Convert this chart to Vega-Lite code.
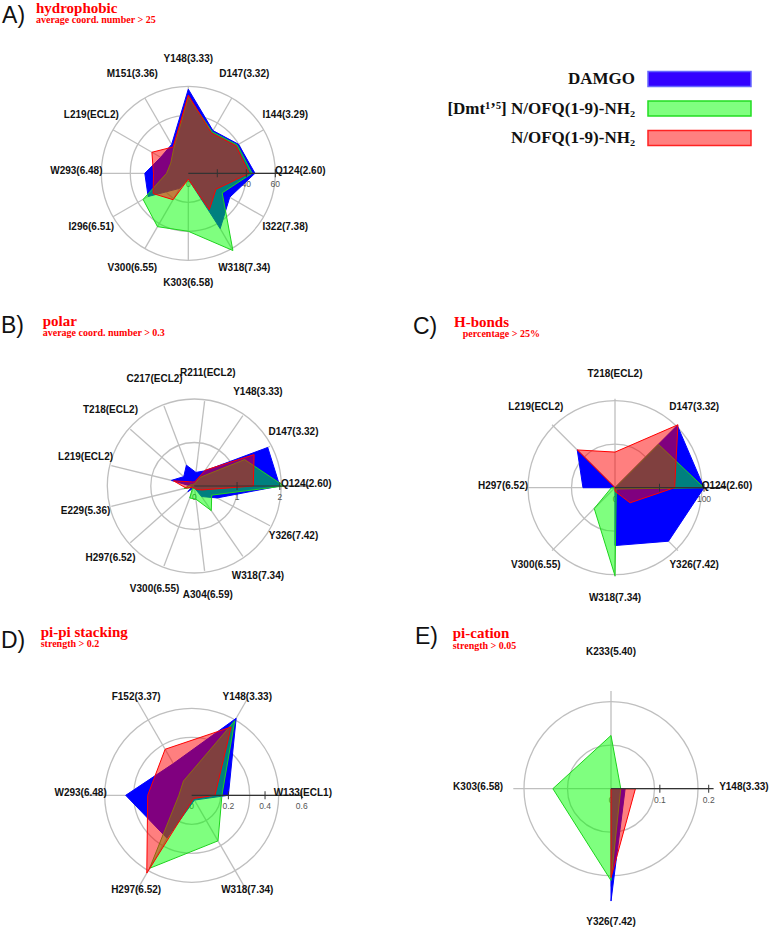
{
"$schema":"https://vega.github.io/schema/vega-lite/v6.json",
"padding":0,
"autosize":{"type":"pad"},
"background":"white",
"columns":2,
"spacing":0,
"bounds":"flush",
"align":"each",
"config":{"view":{"stroke":null},"concat":{"spacing":0}},
"datasets":{
"hyd":[
{"res":"Q124(2.60)","DAMGO":46,"Dmt":44,"NOFQ":42},
{"res":"I144(3.29)","DAMGO":40,"Dmt":39,"NOFQ":38},
{"res":"D147(3.32)","DAMGO":34,"Dmt":33,"NOFQ":32},
{"res":"Y148(3.33)","DAMGO":58,"Dmt":52.5,"NOFQ":54},
{"res":"M151(3.36)","DAMGO":23,"Dmt":20,"NOFQ":21},
{"res":"L219(ECL2)","DAMGO":22,"Dmt":14,"NOFQ":29},
{"res":"W293(6.48)","DAMGO":30,"Dmt":15,"NOFQ":24},
{"res":"I296(6.51)","DAMGO":32,"Dmt":36,"NOFQ":28},
{"res":"V300(6.55)","DAMGO":12,"Dmt":42.5,"NOFQ":21},
{"res":"K303(6.58)","DAMGO":4,"Dmt":40,"NOFQ":4},
{"res":"W318(7.34)","DAMGO":44,"Dmt":61.5,"NOFQ":29},
{"res":"I322(7.38)","DAMGO":33,"Dmt":27,"NOFQ":22}
],
"pol":[
{"res":"Q124(2.60)","DAMGO":2.0,"Dmt":2.1,"NOFQ":1.38},
{"res":"D147(3.32)","DAMGO":1.94,"Dmt":1.33,"NOFQ":1.58},
{"res":"Y148(3.33)","DAMGO":0.43,"Dmt":0.25,"NOFQ":0.45},
{"res":"R211(ECL2)","DAMGO":0.32,"Dmt":0.05,"NOFQ":0.1},
{"res":"C217(ECL2)","DAMGO":0.52,"Dmt":0.05,"NOFQ":0.1},
{"res":"T218(ECL2)","DAMGO":0.33,"Dmt":0.05,"NOFQ":0.15},
{"res":"L219(ECL2)","DAMGO":0.55,"Dmt":0.1,"NOFQ":0.5},
{"res":"E229(5.36)","DAMGO":0.05,"Dmt":0.25,"NOFQ":0.2},
{"res":"H297(6.52)","DAMGO":0.2,"Dmt":0.05,"NOFQ":0.05},
{"res":"V300(6.55)","DAMGO":0.05,"Dmt":0.3,"NOFQ":0.05},
{"res":"A304(6.59)","DAMGO":0.05,"Dmt":0.31,"NOFQ":0.05},
{"res":"W318(7.34)","DAMGO":0.3,"Dmt":0.7,"NOFQ":0.1},
{"res":"Y326(7.42)","DAMGO":0.6,"Dmt":0.46,"NOFQ":0.2}
],
"hb":[
{"res":"Q124(2.60)","DAMGO":100,"Dmt":100,"NOFQ":67},
{"res":"D147(3.32)","DAMGO":99,"Dmt":69,"NOFQ":100},
{"res":"T218(ECL2)","DAMGO":0,"Dmt":0,"NOFQ":40},
{"res":"L219(ECL2)","DAMGO":60,"Dmt":0,"NOFQ":60},
{"res":"H297(6.52)","DAMGO":36,"Dmt":4,"NOFQ":0},
{"res":"V300(6.55)","DAMGO":0,"Dmt":33,"NOFQ":0},
{"res":"W318(7.34)","DAMGO":65,"Dmt":99,"NOFQ":4},
{"res":"Y326(7.42)","DAMGO":85,"Dmt":2,"NOFQ":24}
],
"pp":[
{"res":"W133(ECL1)","DAMGO":0.2,"Dmt":0.165,"NOFQ":0.127},
{"res":"Y148(3.33)","DAMGO":0.485,"Dmt":0.47,"NOFQ":0.43},
{"res":"F152(3.37)","DAMGO":0.2,"Dmt":0.09,"NOFQ":0.29},
{"res":"W293(6.48)","DAMGO":0.36,"Dmt":0.07,"NOFQ":0.24},
{"res":"H297(6.52)","DAMGO":0.27,"Dmt":0.46,"NOFQ":0.49},
{"res":"W318(7.34)","DAMGO":0.03,"Dmt":0.287,"NOFQ":0.02}
],
"pc":[
{"res":"Y148(3.33)","DAMGO":0.029,"Dmt":0.02,"NOFQ":0.05},
{"res":"K233(5.40)","DAMGO":0,"Dmt":0.109,"NOFQ":0},
{"res":"K303(6.58)","DAMGO":0,"Dmt":0.119,"NOFQ":0},
{"res":"Y326(7.42)","DAMGO":0.23,"Dmt":0.188,"NOFQ":0.182}
]
},
"concat":[
{"width":380,"height":300,"layer":[
{"data":{"values":[{"t":20},{"t":40},{"t":60}]},"transform":[{"calculate":"datum.t/60","as":"rn"},{"calculate":"0","as":"z"}],
"mark":{"type":"point","shape":"circle","filled":false,"stroke":"#bfbfbf","strokeWidth":1.3,"opacity":1},
"encoding":{"x":{"field":"z","type":"quantitative","scale":{"domain":[-2.1644,2.2034],"nice":false,"zero":false},"axis":null},"y":{"field":"z","type":"quantitative","scale":{"domain":[-1.4678,1.9805],"nice":false,"zero":false},"axis":null},"size":{"field":"rn","type":"quantitative","scale":{"type":"pow","exponent":2,"domain":[0,1],"range":[0,30276],"zero":true,"nice":false},"legend":null}}},
{"data":{"name":"hyd"},"transform":[{"window":[{"op":"row_number","as":"k"}]},{"joinaggregate":[{"op":"count","as":"n"}]},{"calculate":"2*PI*(datum.k-1)/datum.n","as":"ang"},{"calculate":"cos(datum.ang)","as":"ux"},{"calculate":"sin(datum.ang)","as":"uy"},{"calculate":"0","as":"z"}],
"mark":{"type":"rule","stroke":"#bfbfbf","strokeWidth":1.3},
"encoding":{"x":{"field":"z","type":"quantitative","scale":{"domain":[-2.1644,2.2034],"nice":false,"zero":false},"axis":null},"y":{"field":"z","type":"quantitative","scale":{"domain":[-1.4678,1.9805],"nice":false,"zero":false},"axis":null},"x2":{"field":"ux"},"y2":{"field":"uy"}}},
{"data":{"values":[{"t":0},{"t":20},{"t":40},{"t":60}]},"transform":[{"calculate":"datum.t/60","as":"rn"},{"calculate":"0","as":"z"}],
"mark":{"type":"text","font":"Liberation Sans","fontSize":8.5,"color":"#555","dy":11,"align":"center","baseline":"middle"},
"encoding":{"x":{"field":"rn","type":"quantitative","scale":{"domain":[-2.1644,2.2034],"nice":false,"zero":false},"axis":null},"y":{"field":"z","type":"quantitative","scale":{"domain":[-1.4678,1.9805],"nice":false,"zero":false},"axis":null},"text":{"field":"t","type":"nominal"}}},
{"data":{"name":"hyd"},"transform":[{"window":[{"op":"row_number","as":"k"}]},{"joinaggregate":[{"op":"count","as":"n"}]},{"calculate":"2*PI*(datum.k-1)/datum.n","as":"ang"},{"calculate":"datum.DAMGO/60*cos(datum.ang)","as":"px"},{"calculate":"datum.DAMGO/60*sin(datum.ang)","as":"py"}],
"mark":{"type":"line","filled":true,"interpolate":"linear-closed","fill":"#0000ff","fillOpacity":1,"stroke":"#0000ff","strokeWidth":1},
"encoding":{"x":{"field":"px","type":"quantitative","scale":{"domain":[-2.1644,2.2034],"nice":false,"zero":false},"axis":null},"y":{"field":"py","type":"quantitative","scale":{"domain":[-1.4678,1.9805],"nice":false,"zero":false},"axis":null},"order":{"field":"k","type":"quantitative"}}},
{"data":{"name":"hyd"},"transform":[{"window":[{"op":"row_number","as":"k"}]},{"joinaggregate":[{"op":"count","as":"n"}]},{"calculate":"2*PI*(datum.k-1)/datum.n","as":"ang"},{"calculate":"datum.Dmt/60*cos(datum.ang)","as":"px"},{"calculate":"datum.Dmt/60*sin(datum.ang)","as":"py"}],
"mark":{"type":"line","filled":true,"interpolate":"linear-closed","fill":"#00ff00","fillOpacity":0.5,"stroke":"#1ed31e","strokeWidth":1},
"encoding":{"x":{"field":"px","type":"quantitative","scale":{"domain":[-2.1644,2.2034],"nice":false,"zero":false},"axis":null},"y":{"field":"py","type":"quantitative","scale":{"domain":[-1.4678,1.9805],"nice":false,"zero":false},"axis":null},"order":{"field":"k","type":"quantitative"}}},
{"data":{"name":"hyd"},"transform":[{"window":[{"op":"row_number","as":"k"}]},{"joinaggregate":[{"op":"count","as":"n"}]},{"calculate":"2*PI*(datum.k-1)/datum.n","as":"ang"},{"calculate":"datum.NOFQ/60*cos(datum.ang)","as":"px"},{"calculate":"datum.NOFQ/60*sin(datum.ang)","as":"py"}],
"mark":{"type":"line","filled":true,"interpolate":"linear-closed","fill":"#ff0000","fillOpacity":0.5,"stroke":"#ff0000","strokeWidth":1},
"encoding":{"x":{"field":"px","type":"quantitative","scale":{"domain":[-2.1644,2.2034],"nice":false,"zero":false},"axis":null},"y":{"field":"py","type":"quantitative","scale":{"domain":[-1.4678,1.9805],"nice":false,"zero":false},"axis":null},"order":{"field":"k","type":"quantitative"}}},
{"data":{"values":[{"t":60}]},"transform":[{"calculate":"0","as":"z"},{"calculate":"1.17","as":"e"}],"mark":{"type":"rule","color":"#333","strokeWidth":1.2},
"encoding":{"x":{"field":"z","type":"quantitative","scale":{"domain":[-2.1644,2.2034],"nice":false,"zero":false},"axis":null},"x2":{"field":"e"},"y":{"field":"z","type":"quantitative","scale":{"domain":[-1.4678,1.9805],"nice":false,"zero":false},"axis":null}}},
{"data":{"values":[{"t":20},{"t":40},{"t":60}]},"transform":[{"calculate":"datum.t/60","as":"rn"},{"calculate":"0","as":"z"}],
"mark":{"type":"tick","orient":"vertical","size":8,"thickness":1,"color":"#333","opacity":1},
"encoding":{"x":{"field":"rn","type":"quantitative","scale":{"domain":[-2.1644,2.2034],"nice":false,"zero":false},"axis":null},"y":{"field":"z","type":"quantitative","scale":{"domain":[-1.4678,1.9805],"nice":false,"zero":false},"axis":null}}},
{"data":{"name":"hyd"},"transform":[{"window":[{"op":"row_number","as":"k"}]},{"joinaggregate":[{"op":"count","as":"n"}]},{"calculate":"2*PI*(datum.k-1)/datum.n","as":"ang"},{"calculate":"1.287*cos(datum.ang)","as":"lx"},{"calculate":"1.287*sin(datum.ang)","as":"ly"}],
"mark":{"type":"text","font":"Liberation Sans","fontWeight":"bold","fontSize":10,"color":"#111","align":"center","baseline":"middle","dy":-2},
"encoding":{"x":{"field":"lx","type":"quantitative","scale":{"domain":[-2.1644,2.2034],"nice":false,"zero":false},"axis":null},"y":{"field":"ly","type":"quantitative","scale":{"domain":[-1.4678,1.9805],"nice":false,"zero":false},"axis":null},"text":{"field":"res","type":"nominal"}}},
{"data":{"values":[{"txt":"A)"}]},"mark":{"type":"text","font":"Liberation Sans","fontSize":23,"align":"left","baseline":"alphabetic","color":"#111"},
"encoding":{"x":{"datum":-2.141,"type":"quantitative","scale":{"domain":[-2.1644,2.2034],"nice":false,"zero":false},"axis":null},"y":{"datum":1.731,"type":"quantitative","scale":{"domain":[-1.4678,1.9805],"nice":false,"zero":false},"axis":null},"text":{"field":"txt","type":"nominal"}}},
{"data":{"values":[{"txt":"hydrophobic"}]},"mark":{"type":"text","font":"Liberation Serif","fontWeight":"bold","fontSize":15,"align":"left","baseline":"alphabetic","color":"#ff0000"},
"encoding":{"x":{"datum":-1.751,"type":"quantitative","scale":{"domain":[-2.1644,2.2034],"nice":false,"zero":false},"axis":null},"y":{"datum":1.843,"type":"quantitative","scale":{"domain":[-1.4678,1.9805],"nice":false,"zero":false},"axis":null},"text":{"field":"txt","type":"nominal"}}},
{"data":{"values":[{"txt":"average coord. number > 25"}]},"mark":{"type":"text","font":"Liberation Serif","fontWeight":"bold","fontSize":10,"align":"left","baseline":"alphabetic","color":"#ff0000"},
"encoding":{"x":{"datum":-1.751,"type":"quantitative","scale":{"domain":[-2.1644,2.2034],"nice":false,"zero":false},"axis":null},"y":{"datum":1.724,"type":"quantitative","scale":{"domain":[-1.4678,1.9805],"nice":false,"zero":false},"axis":null},"text":{"field":"txt","type":"nominal"}}}
]},
{"width":389,"height":300,
"data":{"values":[{"series":"DAMGO","label":"DAMGO"},{"series":"Dmt","label":"[Dmt¹’⁵] N/OFQ(1-9)-NH₂"},{"series":"NOFQ","label":"N/OFQ(1-9)-NH₂"}]},
"transform":[{"calculate":"268","as":"b0"},{"calculate":"371","as":"b1"},{"calculate":"255","as":"tx"}],
"layer":[
{"mark":{"type":"rect","strokeWidth":1.5},
"encoding":{"x":{"field":"b0","type":"quantitative","scale":{"domain":[0,389],"nice":false,"zero":false},"axis":null},"x2":{"field":"b1"},"y":{"field":"series","type":"nominal","scale":{"type":"band","domain":["DAMGO","Dmt","NOFQ"],"range":[63.25,151.75],"paddingInner":0.4915,"paddingOuter":0.2458},"axis":null},
"fill":{"field":"series","type":"nominal","scale":{"domain":["DAMGO","Dmt","NOFQ"],"range":["#3300ff","#80ff80","#ff8080"]},"legend":null},
"stroke":{"field":"series","type":"nominal","scale":{"domain":["DAMGO","Dmt","NOFQ"],"range":["#6666ff","#22dd22","#ff2222"]},"legend":null}}},
{"mark":{"type":"text","align":"right","baseline":"middle","font":"Liberation Serif","fontWeight":"bold","fontSize":17,"color":"#111"},
"encoding":{"x":{"field":"tx","type":"quantitative","scale":{"domain":[0,389],"nice":false,"zero":false},"axis":null},"y":{"field":"series","type":"nominal","scale":{"type":"band","domain":["DAMGO","Dmt","NOFQ"],"range":[63.25,151.75],"paddingInner":0.4915,"paddingOuter":0.2458},"axis":null},"text":{"field":"label","type":"nominal"}}}
]},
{"width":380,"height":300,"layer":[
{"data":{"values":[{"t":1},{"t":2}]},"transform":[{"calculate":"datum.t/2","as":"rn"},{"calculate":"0","as":"z"}],
"mark":{"type":"point","shape":"circle","filled":false,"stroke":"#bfbfbf","strokeWidth":1.3,"opacity":1},
"encoding":{"x":{"field":"z","type":"quantitative","scale":{"domain":[-2.2725,2.1719],"nice":false,"zero":false},"axis":null},"y":{"field":"z","type":"quantitative","scale":{"domain":[-1.345,2.1637],"nice":false,"zero":false},"axis":null},"size":{"field":"rn","type":"quantitative","scale":{"type":"pow","exponent":2,"domain":[0,1],"range":[0,29241],"zero":true,"nice":false},"legend":null}}},
{"data":{"name":"pol"},"transform":[{"window":[{"op":"row_number","as":"k"}]},{"joinaggregate":[{"op":"count","as":"n"}]},{"calculate":"2*PI*(datum.k-1)/datum.n","as":"ang"},{"calculate":"cos(datum.ang)","as":"ux"},{"calculate":"sin(datum.ang)","as":"uy"},{"calculate":"0","as":"z"}],
"mark":{"type":"rule","stroke":"#bfbfbf","strokeWidth":1.3},
"encoding":{"x":{"field":"z","type":"quantitative","scale":{"domain":[-2.2725,2.1719],"nice":false,"zero":false},"axis":null},"y":{"field":"z","type":"quantitative","scale":{"domain":[-1.345,2.1637],"nice":false,"zero":false},"axis":null},"x2":{"field":"ux"},"y2":{"field":"uy"}}},
{"data":{"values":[{"t":0},{"t":1},{"t":2}]},"transform":[{"calculate":"datum.t/2","as":"rn"},{"calculate":"0","as":"z"}],
"mark":{"type":"text","font":"Liberation Sans","fontSize":8.5,"color":"#555","dy":11,"align":"center","baseline":"middle"},
"encoding":{"x":{"field":"rn","type":"quantitative","scale":{"domain":[-2.2725,2.1719],"nice":false,"zero":false},"axis":null},"y":{"field":"z","type":"quantitative","scale":{"domain":[-1.345,2.1637],"nice":false,"zero":false},"axis":null},"text":{"field":"t","type":"nominal"}}},
{"data":{"name":"pol"},"transform":[{"window":[{"op":"row_number","as":"k"}]},{"joinaggregate":[{"op":"count","as":"n"}]},{"calculate":"2*PI*(datum.k-1)/datum.n","as":"ang"},{"calculate":"datum.DAMGO/2*cos(datum.ang)","as":"px"},{"calculate":"datum.DAMGO/2*sin(datum.ang)","as":"py"}],
"mark":{"type":"line","filled":true,"interpolate":"linear-closed","fill":"#0000ff","fillOpacity":1,"stroke":"#0000ff","strokeWidth":1},
"encoding":{"x":{"field":"px","type":"quantitative","scale":{"domain":[-2.2725,2.1719],"nice":false,"zero":false},"axis":null},"y":{"field":"py","type":"quantitative","scale":{"domain":[-1.345,2.1637],"nice":false,"zero":false},"axis":null},"order":{"field":"k","type":"quantitative"}}},
{"data":{"name":"pol"},"transform":[{"window":[{"op":"row_number","as":"k"}]},{"joinaggregate":[{"op":"count","as":"n"}]},{"calculate":"2*PI*(datum.k-1)/datum.n","as":"ang"},{"calculate":"datum.Dmt/2*cos(datum.ang)","as":"px"},{"calculate":"datum.Dmt/2*sin(datum.ang)","as":"py"}],
"mark":{"type":"line","filled":true,"interpolate":"linear-closed","fill":"#00ff00","fillOpacity":0.5,"stroke":"#1ed31e","strokeWidth":1},
"encoding":{"x":{"field":"px","type":"quantitative","scale":{"domain":[-2.2725,2.1719],"nice":false,"zero":false},"axis":null},"y":{"field":"py","type":"quantitative","scale":{"domain":[-1.345,2.1637],"nice":false,"zero":false},"axis":null},"order":{"field":"k","type":"quantitative"}}},
{"data":{"name":"pol"},"transform":[{"window":[{"op":"row_number","as":"k"}]},{"joinaggregate":[{"op":"count","as":"n"}]},{"calculate":"2*PI*(datum.k-1)/datum.n","as":"ang"},{"calculate":"datum.NOFQ/2*cos(datum.ang)","as":"px"},{"calculate":"datum.NOFQ/2*sin(datum.ang)","as":"py"}],
"mark":{"type":"line","filled":true,"interpolate":"linear-closed","fill":"#ff0000","fillOpacity":0.5,"stroke":"#ff0000","strokeWidth":1},
"encoding":{"x":{"field":"px","type":"quantitative","scale":{"domain":[-2.2725,2.1719],"nice":false,"zero":false},"axis":null},"y":{"field":"py","type":"quantitative","scale":{"domain":[-1.345,2.1637],"nice":false,"zero":false},"axis":null},"order":{"field":"k","type":"quantitative"}}},
{"data":{"values":[{"t":2}]},"transform":[{"calculate":"0","as":"z"},{"calculate":"1.35","as":"e"}],"mark":{"type":"rule","color":"#333","strokeWidth":1.2},
"encoding":{"x":{"field":"z","type":"quantitative","scale":{"domain":[-2.2725,2.1719],"nice":false,"zero":false},"axis":null},"x2":{"field":"e"},"y":{"field":"z","type":"quantitative","scale":{"domain":[-1.345,2.1637],"nice":false,"zero":false},"axis":null}}},
{"data":{"values":[{"t":1},{"t":2}]},"transform":[{"calculate":"datum.t/2","as":"rn"},{"calculate":"0","as":"z"}],
"mark":{"type":"tick","orient":"vertical","size":8,"thickness":1,"color":"#333","opacity":1},
"encoding":{"x":{"field":"rn","type":"quantitative","scale":{"domain":[-2.2725,2.1719],"nice":false,"zero":false},"axis":null},"y":{"field":"z","type":"quantitative","scale":{"domain":[-1.345,2.1637],"nice":false,"zero":false},"axis":null}}},
{"data":{"name":"pol"},"transform":[{"window":[{"op":"row_number","as":"k"}]},{"joinaggregate":[{"op":"count","as":"n"}]},{"calculate":"2*PI*(datum.k-1)/datum.n","as":"ang"},{"calculate":"1.31*cos(datum.ang)","as":"lx"},{"calculate":"1.31*sin(datum.ang)","as":"ly"}],
"mark":{"type":"text","font":"Liberation Sans","fontWeight":"bold","fontSize":10,"color":"#111","align":"center","baseline":"middle","dy":-2},
"encoding":{"x":{"field":"lx","type":"quantitative","scale":{"domain":[-2.2725,2.1719],"nice":false,"zero":false},"axis":null},"y":{"field":"ly","type":"quantitative","scale":{"domain":[-1.345,2.1637],"nice":false,"zero":false},"axis":null},"text":{"field":"res","type":"nominal"}}},
{"data":{"values":[{"txt":"B)"}]},"mark":{"type":"text","font":"Liberation Sans","fontSize":23,"align":"left","baseline":"alphabetic","color":"#111"},
"encoding":{"x":{"datum":-2.261,"type":"quantitative","scale":{"domain":[-2.2725,2.1719],"nice":false,"zero":false},"axis":null},"y":{"datum":1.793,"type":"quantitative","scale":{"domain":[-1.345,2.1637],"nice":false,"zero":false},"axis":null},"text":{"field":"txt","type":"nominal"}}},
{"data":{"values":[{"txt":"polar"}]},"mark":{"type":"text","font":"Liberation Serif","fontWeight":"bold","fontSize":15,"align":"left","baseline":"alphabetic","color":"#ff0000"},
"encoding":{"x":{"datum":-1.773,"type":"quantitative","scale":{"domain":[-2.2725,2.1719],"nice":false,"zero":false},"axis":null},"y":{"datum":1.871,"type":"quantitative","scale":{"domain":[-1.345,2.1637],"nice":false,"zero":false},"axis":null},"text":{"field":"txt","type":"nominal"}}},
{"data":{"values":[{"txt":"average coord. number > 0.3"}]},"mark":{"type":"text","font":"Liberation Serif","fontWeight":"bold","fontSize":10,"align":"left","baseline":"alphabetic","color":"#ff0000"},
"encoding":{"x":{"datum":-1.773,"type":"quantitative","scale":{"domain":[-2.2725,2.1719],"nice":false,"zero":false},"axis":null},"y":{"datum":1.754,"type":"quantitative","scale":{"domain":[-1.345,2.1637],"nice":false,"zero":false},"axis":null},"text":{"field":"txt","type":"nominal"}}}
]},
{"width":389,"height":300,"layer":[
{"data":{"values":[{"t":50},{"t":100}]},"transform":[{"calculate":"datum.t/100","as":"rn"},{"calculate":"0","as":"z"}],
"mark":{"type":"point","shape":"circle","filled":false,"stroke":"#bfbfbf","strokeWidth":1.3,"opacity":1},
"encoding":{"x":{"field":"z","type":"quantitative","scale":{"domain":[-2.6404,1.7303],"nice":false,"zero":false},"axis":null},"y":{"field":"z","type":"quantitative","scale":{"domain":[-1.273,2.0978],"nice":false,"zero":false},"axis":null},"size":{"field":"rn","type":"quantitative","scale":{"type":"pow","exponent":2,"domain":[0,1],"range":[0,31684],"zero":true,"nice":false},"legend":null}}},
{"data":{"name":"hb"},"transform":[{"window":[{"op":"row_number","as":"k"}]},{"joinaggregate":[{"op":"count","as":"n"}]},{"calculate":"2*PI*(datum.k-1)/datum.n","as":"ang"},{"calculate":"cos(datum.ang)","as":"ux"},{"calculate":"sin(datum.ang)","as":"uy"},{"calculate":"0","as":"z"}],
"mark":{"type":"rule","stroke":"#bfbfbf","strokeWidth":1.3},
"encoding":{"x":{"field":"z","type":"quantitative","scale":{"domain":[-2.6404,1.7303],"nice":false,"zero":false},"axis":null},"y":{"field":"z","type":"quantitative","scale":{"domain":[-1.273,2.0978],"nice":false,"zero":false},"axis":null},"x2":{"field":"ux"},"y2":{"field":"uy"}}},
{"data":{"values":[{"t":0},{"t":50},{"t":100}]},"transform":[{"calculate":"datum.t/100","as":"rn"},{"calculate":"0","as":"z"}],
"mark":{"type":"text","font":"Liberation Sans","fontSize":8.5,"color":"#555","dy":11,"align":"center","baseline":"middle"},
"encoding":{"x":{"field":"rn","type":"quantitative","scale":{"domain":[-2.6404,1.7303],"nice":false,"zero":false},"axis":null},"y":{"field":"z","type":"quantitative","scale":{"domain":[-1.273,2.0978],"nice":false,"zero":false},"axis":null},"text":{"field":"t","type":"nominal"}}},
{"data":{"name":"hb"},"transform":[{"window":[{"op":"row_number","as":"k"}]},{"joinaggregate":[{"op":"count","as":"n"}]},{"calculate":"2*PI*(datum.k-1)/datum.n","as":"ang"},{"calculate":"datum.DAMGO/100*cos(datum.ang)","as":"px"},{"calculate":"datum.DAMGO/100*sin(datum.ang)","as":"py"}],
"mark":{"type":"line","filled":true,"interpolate":"linear-closed","fill":"#0000ff","fillOpacity":1,"stroke":"#0000ff","strokeWidth":1},
"encoding":{"x":{"field":"px","type":"quantitative","scale":{"domain":[-2.6404,1.7303],"nice":false,"zero":false},"axis":null},"y":{"field":"py","type":"quantitative","scale":{"domain":[-1.273,2.0978],"nice":false,"zero":false},"axis":null},"order":{"field":"k","type":"quantitative"}}},
{"data":{"name":"hb"},"transform":[{"window":[{"op":"row_number","as":"k"}]},{"joinaggregate":[{"op":"count","as":"n"}]},{"calculate":"2*PI*(datum.k-1)/datum.n","as":"ang"},{"calculate":"datum.Dmt/100*cos(datum.ang)","as":"px"},{"calculate":"datum.Dmt/100*sin(datum.ang)","as":"py"}],
"mark":{"type":"line","filled":true,"interpolate":"linear-closed","fill":"#00ff00","fillOpacity":0.5,"stroke":"#1ed31e","strokeWidth":1},
"encoding":{"x":{"field":"px","type":"quantitative","scale":{"domain":[-2.6404,1.7303],"nice":false,"zero":false},"axis":null},"y":{"field":"py","type":"quantitative","scale":{"domain":[-1.273,2.0978],"nice":false,"zero":false},"axis":null},"order":{"field":"k","type":"quantitative"}}},
{"data":{"name":"hb"},"transform":[{"window":[{"op":"row_number","as":"k"}]},{"joinaggregate":[{"op":"count","as":"n"}]},{"calculate":"2*PI*(datum.k-1)/datum.n","as":"ang"},{"calculate":"datum.NOFQ/100*cos(datum.ang)","as":"px"},{"calculate":"datum.NOFQ/100*sin(datum.ang)","as":"py"}],
"mark":{"type":"line","filled":true,"interpolate":"linear-closed","fill":"#ff0000","fillOpacity":0.5,"stroke":"#ff0000","strokeWidth":1},
"encoding":{"x":{"field":"px","type":"quantitative","scale":{"domain":[-2.6404,1.7303],"nice":false,"zero":false},"axis":null},"y":{"field":"py","type":"quantitative","scale":{"domain":[-1.273,2.0978],"nice":false,"zero":false},"axis":null},"order":{"field":"k","type":"quantitative"}}},
{"data":{"values":[{"t":100}]},"transform":[{"calculate":"0","as":"z"},{"calculate":"1.25","as":"e"}],"mark":{"type":"rule","color":"#333","strokeWidth":1.2},
"encoding":{"x":{"field":"z","type":"quantitative","scale":{"domain":[-2.6404,1.7303],"nice":false,"zero":false},"axis":null},"x2":{"field":"e"},"y":{"field":"z","type":"quantitative","scale":{"domain":[-1.273,2.0978],"nice":false,"zero":false},"axis":null}}},
{"data":{"values":[{"t":50},{"t":100}]},"transform":[{"calculate":"datum.t/100","as":"rn"},{"calculate":"0","as":"z"}],
"mark":{"type":"tick","orient":"vertical","size":8,"thickness":1,"color":"#333","opacity":1},
"encoding":{"x":{"field":"rn","type":"quantitative","scale":{"domain":[-2.6404,1.7303],"nice":false,"zero":false},"axis":null},"y":{"field":"z","type":"quantitative","scale":{"domain":[-1.273,2.0978],"nice":false,"zero":false},"axis":null}}},
{"data":{"name":"hb"},"transform":[{"window":[{"op":"row_number","as":"k"}]},{"joinaggregate":[{"op":"count","as":"n"}]},{"calculate":"2*PI*(datum.k-1)/datum.n","as":"ang"},{"calculate":"1.258*cos(datum.ang)","as":"lx"},{"calculate":"1.258*sin(datum.ang)","as":"ly"}],
"mark":{"type":"text","font":"Liberation Sans","fontWeight":"bold","fontSize":10,"color":"#111","align":"center","baseline":"middle","dy":-2},
"encoding":{"x":{"field":"lx","type":"quantitative","scale":{"domain":[-2.6404,1.7303],"nice":false,"zero":false},"axis":null},"y":{"field":"ly","type":"quantitative","scale":{"domain":[-1.273,2.0978],"nice":false,"zero":false},"axis":null},"text":{"field":"res","type":"nominal"}}},
{"data":{"values":[{"txt":"C)"}]},"mark":{"type":"text","font":"Liberation Sans","fontSize":23,"align":"left","baseline":"alphabetic","color":"#111"},
"encoding":{"x":{"datum":-2.27,"type":"quantitative","scale":{"domain":[-2.6404,1.7303],"nice":false,"zero":false},"axis":null},"y":{"datum":1.724,"type":"quantitative","scale":{"domain":[-1.273,2.0978],"nice":false,"zero":false},"axis":null},"text":{"field":"txt","type":"nominal"}}},
{"data":{"values":[{"txt":"H-bonds"}]},"mark":{"type":"text","font":"Liberation Serif","fontWeight":"bold","fontSize":15,"align":"left","baseline":"alphabetic","color":"#ff0000"},
"encoding":{"x":{"datum":-1.809,"type":"quantitative","scale":{"domain":[-2.6404,1.7303],"nice":false,"zero":false},"axis":null},"y":{"datum":1.806,"type":"quantitative","scale":{"domain":[-1.273,2.0978],"nice":false,"zero":false},"axis":null},"text":{"field":"txt","type":"nominal"}}},
{"data":{"values":[{"txt":"percentage > 25%"}]},"mark":{"type":"text","font":"Liberation Serif","fontWeight":"bold","fontSize":10,"align":"left","baseline":"alphabetic","color":"#ff0000"},
"encoding":{"x":{"datum":-1.711,"type":"quantitative","scale":{"domain":[-2.6404,1.7303],"nice":false,"zero":false},"axis":null},"y":{"datum":1.693,"type":"quantitative","scale":{"domain":[-1.273,2.0978],"nice":false,"zero":false},"axis":null},"text":{"field":"txt","type":"nominal"}}}
]},
{"width":380,"height":330,"layer":[
{"data":{"values":[{"t":0.2},{"t":0.4},{"t":0.6}]},"transform":[{"calculate":"datum.t/0.6","as":"rn"},{"calculate":"0","as":"z"}],
"mark":{"type":"point","shape":"circle","filled":false,"stroke":"#bfbfbf","strokeWidth":1.3,"opacity":1},
"encoding":{"x":{"field":"z","type":"quantitative","scale":{"domain":[-1.7427,1.7118],"nice":false,"zero":false},"axis":null},"y":{"field":"z","type":"quantitative","scale":{"domain":[-1.2336,1.7664],"nice":false,"zero":false},"axis":null},"size":{"field":"rn","type":"quantitative","scale":{"type":"pow","exponent":2,"domain":[0,1],"range":[0,48400],"zero":true,"nice":false},"legend":null}}},
{"data":{"name":"pp"},"transform":[{"window":[{"op":"row_number","as":"k"}]},{"joinaggregate":[{"op":"count","as":"n"}]},{"calculate":"2*PI*(datum.k-1)/datum.n","as":"ang"},{"calculate":"cos(datum.ang)","as":"ux"},{"calculate":"sin(datum.ang)","as":"uy"},{"calculate":"0","as":"z"}],
"mark":{"type":"rule","stroke":"#bfbfbf","strokeWidth":1.3},
"encoding":{"x":{"field":"z","type":"quantitative","scale":{"domain":[-1.7427,1.7118],"nice":false,"zero":false},"axis":null},"y":{"field":"z","type":"quantitative","scale":{"domain":[-1.2336,1.7664],"nice":false,"zero":false},"axis":null},"x2":{"field":"ux"},"y2":{"field":"uy"}}},
{"data":{"values":[{"t":0},{"t":0.2},{"t":0.4},{"t":0.6}]},"transform":[{"calculate":"datum.t/0.6","as":"rn"},{"calculate":"0","as":"z"}],
"mark":{"type":"text","font":"Liberation Sans","fontSize":8.5,"color":"#555","dy":11,"align":"center","baseline":"middle"},
"encoding":{"x":{"field":"rn","type":"quantitative","scale":{"domain":[-1.7427,1.7118],"nice":false,"zero":false},"axis":null},"y":{"field":"z","type":"quantitative","scale":{"domain":[-1.2336,1.7664],"nice":false,"zero":false},"axis":null},"text":{"field":"t","type":"nominal"}}},
{"data":{"name":"pp"},"transform":[{"window":[{"op":"row_number","as":"k"}]},{"joinaggregate":[{"op":"count","as":"n"}]},{"calculate":"2*PI*(datum.k-1)/datum.n","as":"ang"},{"calculate":"datum.DAMGO/0.6*cos(datum.ang)","as":"px"},{"calculate":"datum.DAMGO/0.6*sin(datum.ang)","as":"py"}],
"mark":{"type":"line","filled":true,"interpolate":"linear-closed","fill":"#0000ff","fillOpacity":1,"stroke":"#0000ff","strokeWidth":1},
"encoding":{"x":{"field":"px","type":"quantitative","scale":{"domain":[-1.7427,1.7118],"nice":false,"zero":false},"axis":null},"y":{"field":"py","type":"quantitative","scale":{"domain":[-1.2336,1.7664],"nice":false,"zero":false},"axis":null},"order":{"field":"k","type":"quantitative"}}},
{"data":{"name":"pp"},"transform":[{"window":[{"op":"row_number","as":"k"}]},{"joinaggregate":[{"op":"count","as":"n"}]},{"calculate":"2*PI*(datum.k-1)/datum.n","as":"ang"},{"calculate":"datum.Dmt/0.6*cos(datum.ang)","as":"px"},{"calculate":"datum.Dmt/0.6*sin(datum.ang)","as":"py"}],
"mark":{"type":"line","filled":true,"interpolate":"linear-closed","fill":"#00ff00","fillOpacity":0.5,"stroke":"#1ed31e","strokeWidth":1},
"encoding":{"x":{"field":"px","type":"quantitative","scale":{"domain":[-1.7427,1.7118],"nice":false,"zero":false},"axis":null},"y":{"field":"py","type":"quantitative","scale":{"domain":[-1.2336,1.7664],"nice":false,"zero":false},"axis":null},"order":{"field":"k","type":"quantitative"}}},
{"data":{"name":"pp"},"transform":[{"window":[{"op":"row_number","as":"k"}]},{"joinaggregate":[{"op":"count","as":"n"}]},{"calculate":"2*PI*(datum.k-1)/datum.n","as":"ang"},{"calculate":"datum.NOFQ/0.6*cos(datum.ang)","as":"px"},{"calculate":"datum.NOFQ/0.6*sin(datum.ang)","as":"py"}],
"mark":{"type":"line","filled":true,"interpolate":"linear-closed","fill":"#ff0000","fillOpacity":0.5,"stroke":"#ff0000","strokeWidth":1},
"encoding":{"x":{"field":"px","type":"quantitative","scale":{"domain":[-1.7427,1.7118],"nice":false,"zero":false},"axis":null},"y":{"field":"py","type":"quantitative","scale":{"domain":[-1.2336,1.7664],"nice":false,"zero":false},"axis":null},"order":{"field":"k","type":"quantitative"}}},
{"data":{"values":[{"t":0.6}]},"transform":[{"calculate":"0","as":"z"},{"calculate":"1.0","as":"e"}],"mark":{"type":"rule","color":"#333","strokeWidth":1.2},
"encoding":{"x":{"field":"z","type":"quantitative","scale":{"domain":[-1.7427,1.7118],"nice":false,"zero":false},"axis":null},"x2":{"field":"e"},"y":{"field":"z","type":"quantitative","scale":{"domain":[-1.2336,1.7664],"nice":false,"zero":false},"axis":null}}},
{"data":{"values":[{"t":0.2},{"t":0.4},{"t":0.6}]},"transform":[{"calculate":"datum.t/0.6","as":"rn"},{"calculate":"0","as":"z"}],
"mark":{"type":"tick","orient":"vertical","size":8,"thickness":1,"color":"#333","opacity":1},
"encoding":{"x":{"field":"rn","type":"quantitative","scale":{"domain":[-1.7427,1.7118],"nice":false,"zero":false},"axis":null},"y":{"field":"z","type":"quantitative","scale":{"domain":[-1.2336,1.7664],"nice":false,"zero":false},"axis":null}}},
{"data":{"name":"pp"},"transform":[{"window":[{"op":"row_number","as":"k"}]},{"joinaggregate":[{"op":"count","as":"n"}]},{"calculate":"2*PI*(datum.k-1)/datum.n","as":"ang"},{"calculate":"1.01*cos(datum.ang)","as":"lx"},{"calculate":"1.01*sin(datum.ang)","as":"ly"}],
"mark":{"type":"text","font":"Liberation Sans","fontWeight":"bold","fontSize":10,"color":"#111","align":"center","baseline":"middle","dy":-2},
"encoding":{"x":{"field":"lx","type":"quantitative","scale":{"domain":[-1.7427,1.7118],"nice":false,"zero":false},"axis":null},"y":{"field":"ly","type":"quantitative","scale":{"domain":[-1.2336,1.7664],"nice":false,"zero":false},"axis":null},"text":{"field":"res","type":"nominal"}}},
{"data":{"values":[{"txt":"D)"}]},"mark":{"type":"text","font":"Liberation Sans","fontSize":23,"align":"left","baseline":"alphabetic","color":"#111"},
"encoding":{"x":{"datum":-1.734,"type":"quantitative","scale":{"domain":[-1.7427,1.7118],"nice":false,"zero":false},"axis":null},"y":{"datum":1.342,"type":"quantitative","scale":{"domain":[-1.2336,1.7664],"nice":false,"zero":false},"axis":null},"text":{"field":"txt","type":"nominal"}}},
{"data":{"values":[{"txt":"pi-pi stacking"}]},"mark":{"type":"text","font":"Liberation Serif","fontWeight":"bold","fontSize":15,"align":"left","baseline":"alphabetic","color":"#ff0000"},
"encoding":{"x":{"datum":-1.373,"type":"quantitative","scale":{"domain":[-1.7427,1.7118],"nice":false,"zero":false},"axis":null},"y":{"datum":1.442,"type":"quantitative","scale":{"domain":[-1.2336,1.7664],"nice":false,"zero":false},"axis":null},"text":{"field":"txt","type":"nominal"}}},
{"data":{"values":[{"txt":"strength > 0.2"}]},"mark":{"type":"text","font":"Liberation Serif","fontWeight":"bold","fontSize":10,"align":"left","baseline":"alphabetic","color":"#ff0000"},
"encoding":{"x":{"datum":-1.373,"type":"quantitative","scale":{"domain":[-1.7427,1.7118],"nice":false,"zero":false},"axis":null},"y":{"datum":1.351,"type":"quantitative","scale":{"domain":[-1.2336,1.7664],"nice":false,"zero":false},"axis":null},"text":{"field":"txt","type":"nominal"}}}
]},
{"width":389,"height":330,"layer":[
{"data":{"values":[{"t":0.1},{"t":0.2}]},"transform":[{"calculate":"datum.t/0.2","as":"rn"},{"calculate":"0","as":"z"}],
"mark":{"type":"point","shape":"circle","filled":false,"stroke":"#bfbfbf","strokeWidth":1.3,"opacity":1},
"encoding":{"x":{"field":"z","type":"quantitative","scale":{"domain":[-2.3644,1.6172],"nice":false,"zero":false},"axis":null},"y":{"field":"z","type":"quantitative","scale":{"domain":[-1.4565,1.9212],"nice":false,"zero":false},"axis":null},"size":{"field":"rn","type":"quantitative","scale":{"type":"pow","exponent":2,"domain":[0,1],"range":[0,38181],"zero":true,"nice":false},"legend":null}}},
{"data":{"name":"pc"},"transform":[{"window":[{"op":"row_number","as":"k"}]},{"joinaggregate":[{"op":"count","as":"n"}]},{"calculate":"2*PI*(datum.k-1)/datum.n","as":"ang"},{"calculate":"cos(datum.ang)","as":"ux"},{"calculate":"sin(datum.ang)","as":"uy"},{"calculate":"0","as":"z"}],
"mark":{"type":"rule","stroke":"#bfbfbf","strokeWidth":1.3},
"encoding":{"x":{"field":"z","type":"quantitative","scale":{"domain":[-2.3644,1.6172],"nice":false,"zero":false},"axis":null},"y":{"field":"z","type":"quantitative","scale":{"domain":[-1.4565,1.9212],"nice":false,"zero":false},"axis":null},"x2":{"field":"ux"},"y2":{"field":"uy"}}},
{"data":{"values":[{"t":0},{"t":0.1},{"t":0.2}]},"transform":[{"calculate":"datum.t/0.2","as":"rn"},{"calculate":"0","as":"z"}],
"mark":{"type":"text","font":"Liberation Sans","fontSize":8.5,"color":"#555","dy":11,"align":"center","baseline":"middle"},
"encoding":{"x":{"field":"rn","type":"quantitative","scale":{"domain":[-2.3644,1.6172],"nice":false,"zero":false},"axis":null},"y":{"field":"z","type":"quantitative","scale":{"domain":[-1.4565,1.9212],"nice":false,"zero":false},"axis":null},"text":{"field":"t","type":"nominal"}}},
{"data":{"name":"pc"},"transform":[{"window":[{"op":"row_number","as":"k"}]},{"joinaggregate":[{"op":"count","as":"n"}]},{"calculate":"2*PI*(datum.k-1)/datum.n","as":"ang"},{"calculate":"datum.DAMGO/0.2*cos(datum.ang)","as":"px"},{"calculate":"datum.DAMGO/0.2*sin(datum.ang)","as":"py"}],
"mark":{"type":"line","filled":true,"interpolate":"linear-closed","fill":"#0000ff","fillOpacity":1,"stroke":"#0000ff","strokeWidth":1},
"encoding":{"x":{"field":"px","type":"quantitative","scale":{"domain":[-2.3644,1.6172],"nice":false,"zero":false},"axis":null},"y":{"field":"py","type":"quantitative","scale":{"domain":[-1.4565,1.9212],"nice":false,"zero":false},"axis":null},"order":{"field":"k","type":"quantitative"}}},
{"data":{"name":"pc"},"transform":[{"window":[{"op":"row_number","as":"k"}]},{"joinaggregate":[{"op":"count","as":"n"}]},{"calculate":"2*PI*(datum.k-1)/datum.n","as":"ang"},{"calculate":"datum.Dmt/0.2*cos(datum.ang)","as":"px"},{"calculate":"datum.Dmt/0.2*sin(datum.ang)","as":"py"}],
"mark":{"type":"line","filled":true,"interpolate":"linear-closed","fill":"#00ff00","fillOpacity":0.5,"stroke":"#1ed31e","strokeWidth":1},
"encoding":{"x":{"field":"px","type":"quantitative","scale":{"domain":[-2.3644,1.6172],"nice":false,"zero":false},"axis":null},"y":{"field":"py","type":"quantitative","scale":{"domain":[-1.4565,1.9212],"nice":false,"zero":false},"axis":null},"order":{"field":"k","type":"quantitative"}}},
{"data":{"name":"pc"},"transform":[{"window":[{"op":"row_number","as":"k"}]},{"joinaggregate":[{"op":"count","as":"n"}]},{"calculate":"2*PI*(datum.k-1)/datum.n","as":"ang"},{"calculate":"datum.NOFQ/0.2*cos(datum.ang)","as":"px"},{"calculate":"datum.NOFQ/0.2*sin(datum.ang)","as":"py"}],
"mark":{"type":"line","filled":true,"interpolate":"linear-closed","fill":"#ff0000","fillOpacity":0.5,"stroke":"#ff0000","strokeWidth":1},
"encoding":{"x":{"field":"px","type":"quantitative","scale":{"domain":[-2.3644,1.6172],"nice":false,"zero":false},"axis":null},"y":{"field":"py","type":"quantitative","scale":{"domain":[-1.4565,1.9212],"nice":false,"zero":false},"axis":null},"order":{"field":"k","type":"quantitative"}}},
{"data":{"values":[{"t":0.2}]},"transform":[{"calculate":"0","as":"z"},{"calculate":"1.05","as":"e"}],"mark":{"type":"rule","color":"#333","strokeWidth":1.2},
"encoding":{"x":{"field":"z","type":"quantitative","scale":{"domain":[-2.3644,1.6172],"nice":false,"zero":false},"axis":null},"x2":{"field":"e"},"y":{"field":"z","type":"quantitative","scale":{"domain":[-1.4565,1.9212],"nice":false,"zero":false},"axis":null}}},
{"data":{"values":[{"t":0.1},{"t":0.2}]},"transform":[{"calculate":"datum.t/0.2","as":"rn"},{"calculate":"0","as":"z"}],
"mark":{"type":"tick","orient":"vertical","size":8,"thickness":1,"color":"#333","opacity":1},
"encoding":{"x":{"field":"rn","type":"quantitative","scale":{"domain":[-2.3644,1.6172],"nice":false,"zero":false},"axis":null},"y":{"field":"z","type":"quantitative","scale":{"domain":[-1.4565,1.9212],"nice":false,"zero":false},"axis":null}}},
{"data":{"name":"pc"},"transform":[{"window":[{"op":"row_number","as":"k"}]},{"joinaggregate":[{"op":"count","as":"n"}]},{"calculate":"2*PI*(datum.k-1)/datum.n","as":"ang"},{"calculate":"1.36*cos(datum.ang)","as":"lx"},{"calculate":"1.38*sin(datum.ang)","as":"ly"}],
"mark":{"type":"text","font":"Liberation Sans","fontWeight":"bold","fontSize":10,"color":"#111","align":"center","baseline":"middle","dy":-2},
"encoding":{"x":{"field":"lx","type":"quantitative","scale":{"domain":[-2.3644,1.6172],"nice":false,"zero":false},"axis":null},"y":{"field":"ly","type":"quantitative","scale":{"domain":[-1.4565,1.9212],"nice":false,"zero":false},"axis":null},"text":{"field":"res","type":"nominal"}}},
{"data":{"values":[{"txt":"E)"}]},"mark":{"type":"text","font":"Liberation Sans","fontSize":23,"align":"left","baseline":"alphabetic","color":"#111"},
"encoding":{"x":{"datum":-2.006,"type":"quantitative","scale":{"domain":[-2.3644,1.6172],"nice":false,"zero":false},"axis":null},"y":{"datum":1.484,"type":"quantitative","scale":{"domain":[-1.4565,1.9212],"nice":false,"zero":false},"axis":null},"text":{"field":"txt","type":"nominal"}}},
{"data":{"values":[{"txt":"pi-cation"}]},"mark":{"type":"text","font":"Liberation Serif","fontWeight":"bold","fontSize":15,"align":"left","baseline":"alphabetic","color":"#ff0000"},
"encoding":{"x":{"datum":-1.62,"type":"quantitative","scale":{"domain":[-2.3644,1.6172],"nice":false,"zero":false},"axis":null},"y":{"datum":1.546,"type":"quantitative","scale":{"domain":[-1.4565,1.9212],"nice":false,"zero":false},"axis":null},"text":{"field":"txt","type":"nominal"}}},
{"data":{"values":[{"txt":"strength > 0.05"}]},"mark":{"type":"text","font":"Liberation Serif","fontWeight":"bold","fontSize":10,"align":"left","baseline":"alphabetic","color":"#ff0000"},
"encoding":{"x":{"datum":-1.62,"type":"quantitative","scale":{"domain":[-2.3644,1.6172],"nice":false,"zero":false},"axis":null},"y":{"datum":1.433,"type":"quantitative","scale":{"domain":[-1.4565,1.9212],"nice":false,"zero":false},"axis":null},"text":{"field":"txt","type":"nominal"}}}
]}
]
}
